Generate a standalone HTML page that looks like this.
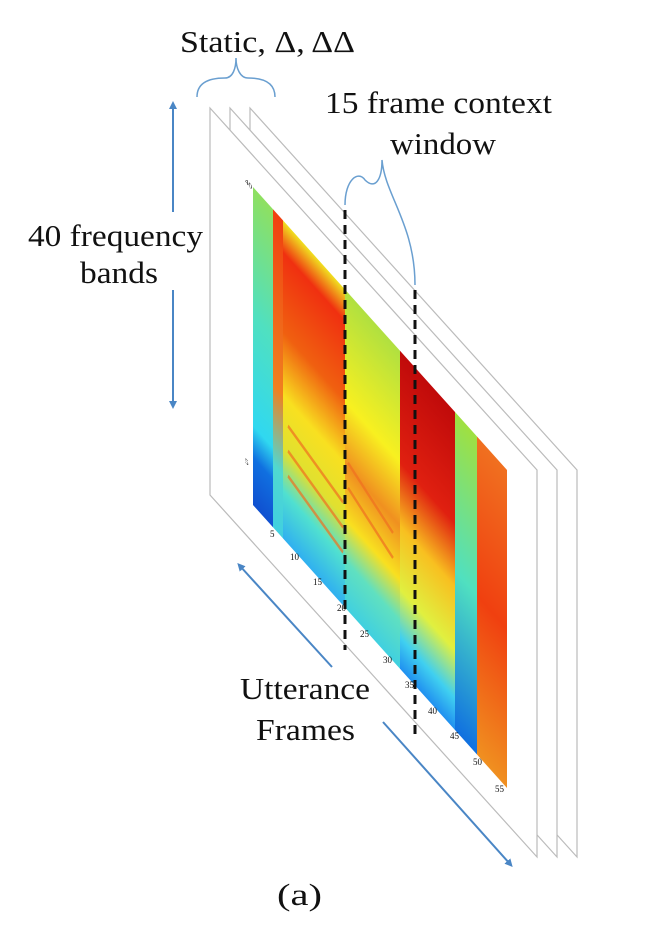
<!DOCTYPE html>
<html><head><style>
body{margin:0;background:#fff;}
svg{display:block;}
text{font-family:"Liberation Serif",serif;fill:#111;}
</style></head><body>
<svg width="656" height="926" viewBox="0 0 656 926">
<defs>
<marker id="ah" markerWidth="8" markerHeight="8" refX="4" refY="4" orient="auto" markerUnits="userSpaceOnUse">
<path d="M0,0 L8,4 L0,8 z" fill="#4a86c5"/></marker>
<linearGradient id="c0" x1="0" y1="0" x2="0" y2="1"><stop offset="0" stop-color="#8fe060"/><stop offset="0.4" stop-color="#50e0c0"/><stop offset="0.75" stop-color="#30d8f0"/><stop offset="0.85" stop-color="#1070e0"/><stop offset="1" stop-color="#1050d0"/></linearGradient>
<linearGradient id="c1" x1="0" y1="0" x2="0" y2="1"><stop offset="0" stop-color="#f04010"/><stop offset="0.55" stop-color="#f08020"/><stop offset="0.8" stop-color="#50d8d0"/><stop offset="1" stop-color="#40d0e0"/></linearGradient>
<linearGradient id="c2" x1="0" y1="0" x2="0" y2="1"><stop offset="0" stop-color="#f0e020"/><stop offset="0.1" stop-color="#f03010"/><stop offset="0.35" stop-color="#f06010"/><stop offset="0.55" stop-color="#f8e020"/><stop offset="0.72" stop-color="#e0e030"/><stop offset="0.85" stop-color="#50e0d0"/><stop offset="1" stop-color="#30b0f0"/></linearGradient>
<linearGradient id="c3" x1="0" y1="0" x2="0" y2="1"><stop offset="0" stop-color="#b0e040"/><stop offset="0.35" stop-color="#f8f020"/><stop offset="0.55" stop-color="#f09020"/><stop offset="0.72" stop-color="#f8e020"/><stop offset="0.85" stop-color="#60e0c0"/><stop offset="1" stop-color="#40d0e0"/></linearGradient>
<linearGradient id="c4" x1="0" y1="0" x2="0" y2="1"><stop offset="0" stop-color="#c00a0a"/><stop offset="0.35" stop-color="#e02010"/><stop offset="0.55" stop-color="#f8c020"/><stop offset="0.75" stop-color="#e0f040"/><stop offset="0.9" stop-color="#40d0f0"/><stop offset="1" stop-color="#2090f0"/></linearGradient>
<linearGradient id="c5" x1="0" y1="0" x2="0" y2="1"><stop offset="0" stop-color="#a0e040"/><stop offset="0.5" stop-color="#50e0c0"/><stop offset="1" stop-color="#1070e0"/></linearGradient>
<linearGradient id="c6" x1="0" y1="0" x2="0" y2="1"><stop offset="0" stop-color="#f07020"/><stop offset="0.5" stop-color="#f04010"/><stop offset="1" stop-color="#f09020"/></linearGradient>
</defs>
<g fill="#fff" stroke="#bbb" stroke-width="1.2">
<path d="M250,108 L577,470 L577,857 L250,495 Z"/>
<path d="M230,108 L557,470 L557,857 L230,495 Z"/>
<path d="M210,108 L537,470 L537,857 L210,495 Z"/>
</g>
<g transform="matrix(1,1.114,0,1,253,187)">
<rect x="0" y="0" width="20" height="318" fill="url(#c0)"/>
<rect x="20" y="0" width="10" height="318" fill="url(#c1)"/>
<rect x="30" y="0" width="62" height="318" fill="url(#c2)"/>
<rect x="92" y="0" width="55" height="318" fill="url(#c3)"/>
<rect x="147" y="0" width="55" height="318" fill="url(#c4)"/>
<rect x="202" y="0" width="22" height="318" fill="url(#c5)"/>
<rect x="224" y="0" width="30" height="318" fill="url(#c6)"/>
<g stroke="#f07020" stroke-width="4" opacity="0.7">
<line x1="35" y1="200" x2="90" y2="215"/><line x1="35" y1="225" x2="90" y2="240"/><line x1="35" y1="250" x2="90" y2="265"/>
<line x1="95" y1="170" x2="140" y2="190"/><line x1="95" y1="195" x2="140" y2="215"/></g>
<g fill="#333" font-size="7"><text x="-8" y="4">40</text><text x="-8" y="284">5</text></g>
</g>
<g fill="#444" font-size="9">
<text x="270" y="537">5</text><text x="290" y="560">10</text><text x="313" y="585">15</text><text x="337" y="611">20</text><text x="360" y="637">25</text><text x="383" y="663">30</text><text x="405" y="688">35</text><text x="428" y="714">40</text><text x="450" y="739">45</text><text x="473" y="765">50</text><text x="495" y="792">55</text>
</g>
<g stroke="#111" stroke-width="3" stroke-dasharray="9,6">
<line x1="345" y1="210" x2="345" y2="650"/>
<line x1="415" y1="290" x2="415" y2="735"/>
</g>
<g fill="none" stroke="#6a9fd0" stroke-width="1.5">
<path d="M197,97 C197,82 210,78 225,78 C233,78 236,68 236,58 C236,68 240,78 248,78 C262,78 275,82 275,97"/>
<path d="M345,205 C345,180 358,170 365,180 C375,190 382,180 382,160 C385,195 415,225 415,285"/>
</g>
<g stroke="#4a86c5" stroke-width="2" fill="none">
<line x1="173" y1="212" x2="173" y2="105" marker-end="url(#ah)"/>
<line x1="173" y1="290" x2="173" y2="405" marker-end="url(#ah)"/>
<line x1="332" y1="667" x2="240" y2="566" marker-end="url(#ah)"/>
<line x1="383" y1="722" x2="510" y2="864" marker-end="url(#ah)"/>
</g>
<g font-size="31">
<text x="180" y="52" textLength="175" lengthAdjust="spacingAndGlyphs">Static, Δ, ΔΔ</text>
<text x="325" y="113" textLength="227" lengthAdjust="spacingAndGlyphs">15 frame context</text>
<text x="390" y="154" textLength="106" lengthAdjust="spacingAndGlyphs">window</text>
<text x="28" y="246" textLength="175" lengthAdjust="spacingAndGlyphs">40 frequency</text>
<text x="80" y="283" textLength="78" lengthAdjust="spacingAndGlyphs">bands</text>
<text x="240" y="699" textLength="130" lengthAdjust="spacingAndGlyphs">Utterance</text>
<text x="256" y="740" textLength="99" lengthAdjust="spacingAndGlyphs">Frames</text>
<text x="277" y="905" textLength="45" lengthAdjust="spacingAndGlyphs">(a)</text>
</g>
</svg>
</body></html>
